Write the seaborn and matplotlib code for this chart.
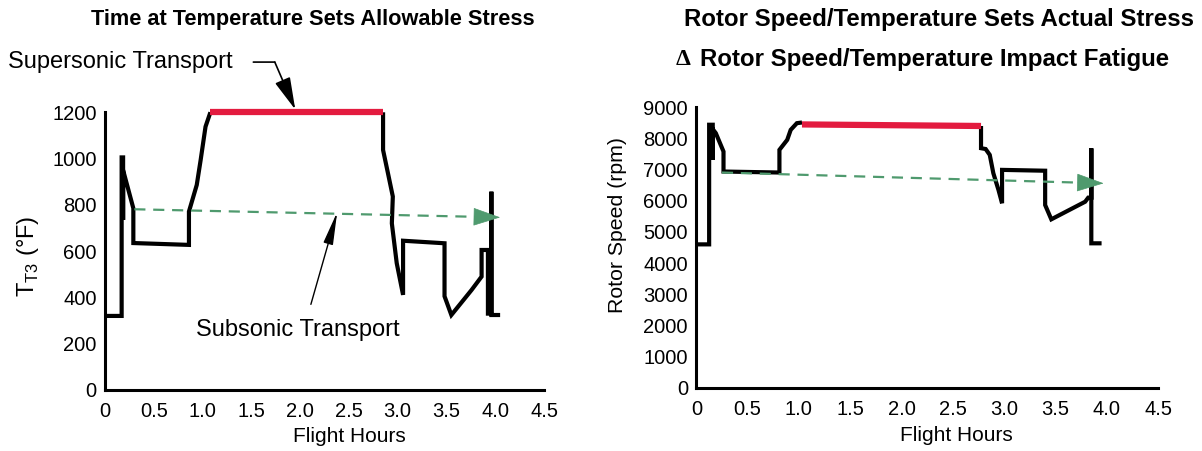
import matplotlib
matplotlib.use("Agg")
import matplotlib.pyplot as plt
import seaborn as sns

# ---- Supersonic transport: compressor exit temperature T_T3 (deg F) vs flight hours
sst_climb_hours = [0.00, 0.17, 0.17, 0.185, 0.185, 0.185, 0.29, 0.29, 0.86, 0.86, 0.94, 0.98, 1.03, 1.08]
sst_climb_temp = [320, 320, 1005, 1005, 735, 950, 785, 635, 627, 771, 886, 994, 1138, 1200]
sst_cruise_hours = [1.08, 2.85]
sst_cruise_temp = [1200, 1200]
sst_descent_hours = [2.85, 2.85, 2.90, 2.95, 2.94, 2.99, 3.055, 3.055, 3.48, 3.48, 3.55,
                     3.757, 3.86, 3.86, 3.925, 3.925, 3.96, 3.96, 3.96, 4.05]
sst_descent_temp = [1200, 1037, 937, 836, 720, 548, 411, 645, 634, 405, 324,
                    432, 490, 605, 605, 330, 330, 857, 324, 324]
# subsonic transport trend
sub_hours = [0.30, 4.05]
sub_temp = [781, 746]

# ---- Rotor speed (rpm) vs flight hours
rpm_climb_hours = [0.00, 0.125, 0.125, 0.16, 0.16, 0.16, 0.19, 0.265, 0.265, 0.81, 0.81, 0.886, 0.92, 0.98, 1.03]
rpm_climb_vals = [4600, 4600, 8440, 8440, 7310, 8300, 8170, 7580, 6938, 6906, 7634, 7955, 8276, 8490, 8512]
rpm_cruise_hours = [1.03, 2.775]
rpm_cruise_vals = [8450, 8400]
rpm_descent_hours = [2.775, 2.775, 2.82, 2.86, 2.895, 2.945, 2.98, 2.98, 3.40, 3.40, 3.46,
                     3.79, 3.82, 3.85, 3.85, 3.85, 3.95]
rpm_descent_vals = [8400, 7687, 7660, 7473, 6884, 6349, 5920, 6991, 6964, 5863, 5404,
                    5969, 6100, 6100, 7683, 4634, 4634]
rpm_trend_hours = [0.25, 3.97]
rpm_trend_vals = [6906, 6560]

x_ticks = [0, 0.5, 1.0, 1.5, 2.0, 2.5, 3.0, 3.5, 4.0, 4.5]
x_tick_labels = ["0", "0.5", "1.0", "1.5", "2.0", "2.5", "3.0", "3.5", "4.0", "4.5"]
temp_ticks = [0, 200, 400, 600, 800, 1000, 1200]
rpm_ticks = [0, 1000, 2000, 3000, 4000, 5000, 6000, 7000, 8000, 9000]

BLACK = "#000000"
RED = "#e31b3f"
GREEN = "#4f9a6e"

sns.set_style("white")
plt.rcParams["font.family"] = ["Liberation Sans", "DejaVu Sans"]
plt.rcParams["text.color"] = BLACK
plt.rcParams["axes.labelcolor"] = BLACK
plt.rcParams["xtick.color"] = BLACK
plt.rcParams["ytick.color"] = BLACK

fig = plt.figure(figsize=(12.02, 4.51), dpi=100)
ax1 = fig.add_axes([0.0874, 0.1353, 0.3652, 0.6157])
ax2 = fig.add_axes([0.5793, 0.1404, 0.3841, 0.6217])


def style_axes(ax, yticks, ylim, xlabel_x):
    ax.set_xlim(0, 4.5)
    ax.set_ylim(*ylim)
    ax.set_xticks(x_ticks)
    ax.set_xticklabels(x_tick_labels)
    ax.set_yticks(yticks)
    for side in ("top", "right"):
        ax.spines[side].set_visible(False)
    for side in ("left", "bottom"):
        ax.spines[side].set_linewidth(2.2)
        ax.spines[side].set_color(BLACK)
    ax.tick_params(axis="both", direction="in", length=8, width=2, colors=BLACK,
                   labelsize=14.5)
    ax.tick_params(axis="x", pad=9)
    ax.tick_params(axis="y", pad=6)
    ax.set_xlabel("Flight Hours", fontsize=15, color=BLACK)
    ax.xaxis.set_label_coords(xlabel_x, -0.135)
    ax.grid(False)


def profile(ax, x, y, color, lw):
    sns.lineplot(x=x, y=y, sort=False, estimator=None, color=color, lw=lw, ax=ax,
                 clip_on=False, solid_joinstyle="miter", solid_capstyle="butt")


def trend(ax, x, y, head_start):
    # dashed trend line ending in a filled arrow head
    slope = (y[1] - y[0]) / (x[1] - x[0])
    x_dash_end = head_start + 0.02
    sns.lineplot(x=[x[0], x_dash_end], y=[y[0], y[0] + slope * (x_dash_end - x[0])],
                 sort=False, estimator=None, color=GREEN, lw=1.6, ax=ax,
                 linestyle=(0, (5, 3.5)), clip_on=False)
    y_head = y[0] + slope * (head_start - x[0])
    ax.annotate("", xy=(x[1], y[1]), xytext=(head_start, y_head),
                arrowprops=dict(arrowstyle="-|>,head_length=0.9,head_width=0.3",
                                mutation_scale=20, color=GREEN, lw=0.5,
                                shrinkA=0, shrinkB=0),
                annotation_clip=False)


# ---- left panel
style_axes(ax1, temp_ticks, (0, 1200), 0.556)
profile(ax1, sst_climb_hours, sst_climb_temp, BLACK, 3.0)
profile(ax1, sst_descent_hours, sst_descent_temp, BLACK, 3.0)
profile(ax1, sst_cruise_hours, sst_cruise_temp, RED, 4.5)
trend(ax1, sub_hours, sub_temp, 3.79)
ax1.set_ylabel(r"T$_{\mathregular{T3}}$ ($\mathregular{\degree}$F)", fontsize=17, color=BLACK)
ax1.yaxis.set_label_coords(-0.147, 0.48)

ax1.text(-0.99, 1417, "Supersonic Transport", fontsize=17, ha="left", va="center",
         color=BLACK, clip_on=False)
ax1.annotate("", xy=(1.74, 1417), xytext=(1.52, 1417),
             arrowprops=dict(arrowstyle="-", color=BLACK, lw=1.2, shrinkA=0, shrinkB=0),
             annotation_clip=False)
ax1.annotate("", xy=(1.95, 1212), xytext=(1.74, 1417),
             arrowprops=dict(arrowstyle="-|>,head_length=1.0,head_width=0.25",
                             mutation_scale=20, color=BLACK, lw=1.2, shrinkA=0, shrinkB=0),
             annotation_clip=False)

ax1.text(1.98, 259, "Subsonic Transport", fontsize=17, ha="center", va="center", color=BLACK)
ax1.annotate("", xy=(2.38, 769), xytext=(2.11, 370),
             arrowprops=dict(arrowstyle="-|>,head_length=1.0,head_width=0.15",
                             mutation_scale=20, color=BLACK, lw=1.0, shrinkA=0, shrinkB=0),
             annotation_clip=False)

# ---- right panel
style_axes(ax2, rpm_ticks, (0, 9000), 0.5625)
profile(ax2, rpm_climb_hours, rpm_climb_vals, BLACK, 3.0)
profile(ax2, rpm_descent_hours, rpm_descent_vals, BLACK, 3.0)
profile(ax2, rpm_cruise_hours, rpm_cruise_vals, RED, 4.5)
trend(ax2, rpm_trend_hours, rpm_trend_vals, 3.72)
ax2.set_ylabel("Rotor Speed (rpm)", fontsize=15.3, color=BLACK)
ax2.yaxis.set_label_coords(-0.15, 0.58)

# ---- titles
fig.text(0.26, 0.9557, "Time at Temperature Sets Allowable Stress", fontsize=15.7,
         fontweight="bold", ha="center", va="center", color=BLACK)
fig.text(0.781, 0.9557, "Rotor Speed/Temperature Sets Actual Stress", fontsize=17.3,
         fontweight="bold", ha="center", va="center", color=BLACK)
fig.text(0.568, 0.867, "\u0394", fontsize=17, fontweight="bold", ha="center", va="center",
         family=["Liberation Serif", "DejaVu Serif"], color=BLACK)
fig.text(0.5824, 0.867, "Rotor Speed/Temperature Impact Fatigue", fontsize=17.3,
         fontweight="bold", ha="left", va="center", color=BLACK)

fig.savefig("out.png", dpi=100)
